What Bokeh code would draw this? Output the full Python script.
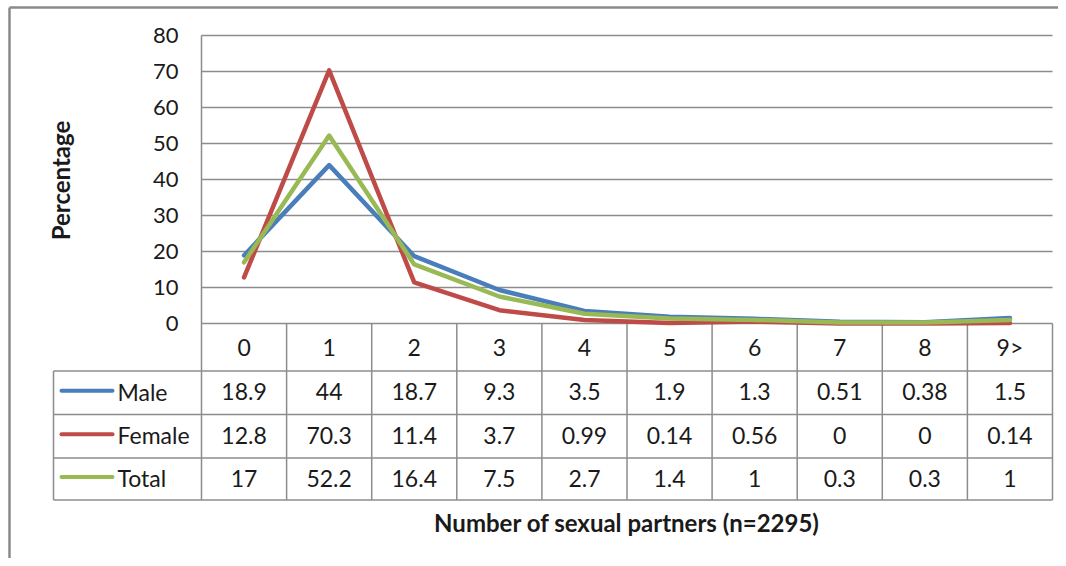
import math
from bokeh.plotting import figure
from bokeh.models import Range1d
from bokeh.core.properties import value
from bokeh.embed import file_html
from bokeh.resources import INLINE

# ---------------- data ----------------
categories = ["0", "1", "2", "3", "4", "5", "6", "7", "8", "9>"]
male = [18.9, 44, 18.7, 9.3, 3.5, 1.9, 1.3, 0.51, 0.38, 1.5]
female = [12.8, 70.3, 11.4, 3.7, 0.99, 0.14, 0.56, 0, 0, 0.14]
total = [17, 52.2, 16.4, 7.5, 2.7, 1.4, 1, 0.3, 0.3, 1]
male_labels = ["18.9", "44", "18.7", "9.3", "3.5", "1.9", "1.3", "0.51", "0.38", "1.5"]
female_labels = ["12.8", "70.3", "11.4", "3.7", "0.99", "0.14", "0.56", "0", "0", "0.14"]
total_labels = ["17", "52.2", "16.4", "7.5", "2.7", "1.4", "1", "0.3", "0.3", "1"]
series_names = ["Male", "Female", "Total"]
y_ticks = [0, 10, 20, 30, 40, 50, 60, 70, 80]
x_title = "Number of sexual partners (n=2295)"
y_title = "Percentage"

# ---------------- layout (pixels) ----------------
W, H = 1058, 558
FONT = value("Lato")
colors = ["#4A7EBB", "#BE4B48", "#98B954"]
grid_col = "#8C8C8C"
txt_col = "#1A1A1A"
TS = "23px"

plot_left, plot_right = 201, 1052
plot_top, plot_zero = 35, 323
ncat = len(categories)
colw = (plot_right - plot_left) / ncat
ymax = y_ticks[-1]
ppu = (plot_zero - plot_top) / ymax

def px2x(px):
    return (px - plot_left) / colw - 0.5

def py2y(py):
    return (plot_zero - py) / ppu

p = figure(width=W, height=H, output_backend="svg", toolbar_location=None,
           x_range=Range1d(px2x(0), px2x(W)), y_range=Range1d(py2y(H), py2y(0)),
           min_border=0)
p.axis.visible = False
p.grid.visible = False
p.outline_line_color = None
p.background_fill_color = "white"
p.border_fill_color = "white"

xl, xr = px2x(plot_left), px2x(plot_right)

# outer chart border (left + top)
p.segment(x0=[px2x(9), px2x(9)], y0=[py2y(7), py2y(7)],
          x1=[px2x(9), px2x(W)], y1=[py2y(H), py2y(7)],
          line_color="#8A8A8A", line_width=2.5)

# horizontal gridlines
p.segment(x0=[xl] * len(y_ticks), y0=y_ticks, x1=[xr] * len(y_ticks), y1=y_ticks,
          line_color=grid_col, line_width=1.5)

# table geometry
row_bounds = [plot_zero, 370.5, 414, 457.5, 499.5]
leg_left = 53
ybot = py2y(row_bounds[-1])

# vertical lines of plot/table (first one doubles as the plot's left border)
vx = [i - 0.5 for i in range(ncat + 1)]
p.segment(x0=vx, y0=[ymax] + [0] * ncat, x1=vx, y1=[ybot] * (ncat + 1),
          line_color=grid_col, line_width=1.5)
# legend column left border
p.segment(x0=[px2x(leg_left)], y0=[py2y(row_bounds[1])], x1=[px2x(leg_left)], y1=[ybot],
          line_color=grid_col, line_width=1.5)
# table horizontal lines
hy = [py2y(b) for b in row_bounds[1:]]
p.segment(x0=[px2x(leg_left)] * len(hy), y0=hy, x1=[xr] * len(hy), y1=hy,
          line_color=grid_col, line_width=1.5)

# y tick labels
p.text(x=[px2x(178)] * len(y_ticks), y=y_ticks, text=[str(t) for t in y_ticks],
       text_font=FONT, text_font_size="22px", text_color=txt_col,
       text_align="right", text_baseline="middle")

# header category labels
xs = list(range(ncat))
hdr_y = py2y((row_bounds[0] + row_bounds[1]) / 2)
p.text(x=xs, y=[hdr_y] * ncat, text=categories, text_font=FONT, text_font_size=TS,
       text_color=txt_col, text_align="center", text_baseline="middle")

# data lines + table rows
series = [male, female, total]
labels = [male_labels, female_labels, total_labels]
for k, (vals, labs, name, c) in enumerate(zip(series, labels, series_names, colors)):
    p.line(x=xs, y=vals, line_color=c, line_width=4.5, line_join="round", line_cap="round")
    ry = py2y((row_bounds[k + 1] + row_bounds[k + 2]) / 2 - 1)
    p.text(x=xs, y=[ry] * ncat, text=labs, text_font=FONT, text_font_size=TS,
           text_color=txt_col, text_align="center", text_baseline="middle")
    ly = py2y((row_bounds[k + 1] + row_bounds[k + 2]) / 2 - 2)
    p.segment(x0=[px2x(61)], y0=[ly], x1=[px2x(112)], y1=[ly],
              line_color=c, line_width=4, line_cap="round")
    p.text(x=[px2x(117)], y=[ry], text=[name], text_font=FONT, text_font_size=TS,
           text_color=txt_col, text_align="left", text_baseline="middle")

# axis titles
p.text(x=[(xl + xr) / 2], y=[py2y(522)], text=[x_title], text_font=FONT,
       text_font_size="24px", text_font_style="bold", text_color=txt_col,
       text_align="center", text_baseline="middle")
p.text(x=[px2x(60)], y=[py2y(180)], text=[y_title], text_font=FONT,
       text_font_size="24px", text_font_style="bold", text_color=txt_col,
       text_align="center", text_baseline="middle", angle=math.pi / 2)

open("out.html", "w").write(file_html(p, INLINE))
